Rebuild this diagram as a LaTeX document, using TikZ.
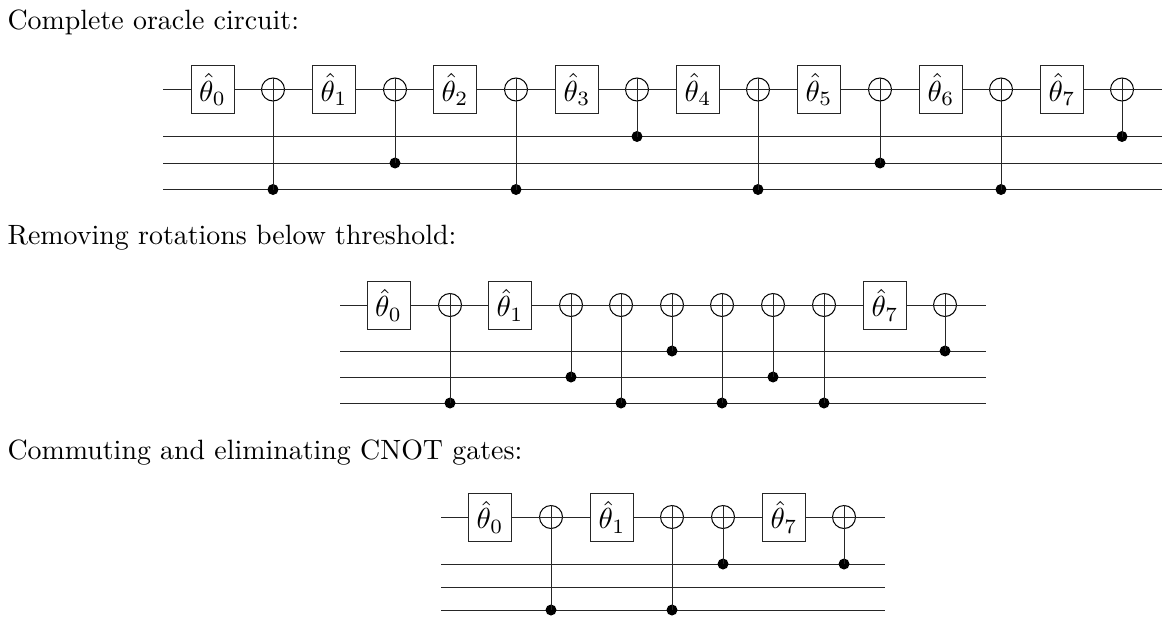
\documentclass[tikz,border=0pt]{standalone}
\tikzset{
  wire/.style={line width=1pt,black!85},
  gatebox/.style={draw,line width=1pt,black!85,text=black,fill=white,minimum width=43pt,minimum height=48pt,inner sep=0pt},
  oplus/.style={circle,draw,line width=1pt,minimum size=23pt,inner sep=0pt},
  ctrl/.style={circle,fill=black,minimum size=11pt,inner sep=0pt},
  title/.style={anchor=base west,inner sep=0pt,scale=2.79}
}
% #1 prefix, #2 x, #3 top y, #4 control y
\newcommand{\cnotgate}[4]{%
  \node[oplus] (#1t) at (#2,#3) {};
  \node[ctrl] (#1c) at (#2,#4) {};
  \draw[wire] (#1t.north) -- (#1c.center);
  \draw[wire] (#1t.west) -- (#1t.east);
}
\newcommand{\rotgate}[4]{%
  \node[gatebox] (#1) at (#2,#3) {\scalebox{2.9}{$\hat\theta_{#4}$}};
}
\begin{document}
\begin{tikzpicture}[x=1pt,y=-1pt]
\useasboundingbox (0,0) rectangle (1169,626);
\node[title] (t1) at (7,30) {Complete oracle circuit:};
\node[title] (t2) at (7,244.5) {Removing rotations below threshold:};
\node[title] (t3) at (7,459) {Commuting and eliminating CNOT gates:};
% circuit 1
\foreach \n/\y in {a/89.5,b/136.5,c/163,d/189.5}{
  \coordinate (A\n l) at (163,\y); \coordinate (A\n r) at (1162,\y);
  \draw[wire] (A\n l) -- (A\n r);
}
\foreach \i/\x in {0/212.5,1/334,2/455,3/577,4/698,5/819,6/941,7/1062}{
  \rotgate{Ar\i}{\x}{89.5}{\i}
}
\foreach \i/\x/\y in {0/273/189.5,1/395/163,2/516/189.5,3/637/136.5,4/758/189.5,5/880/163,6/1001/189.5,7/1122/136.5}{
  \cnotgate{Ag\i}{\x}{89.5}{\y}
}
% circuit 2
\foreach \n/\y in {a/305,b/351,c/377,d/403}{
  \coordinate (B\n l) at (340,\y); \coordinate (B\n r) at (986,\y);
  \draw[wire] (B\n l) -- (B\n r);
}
\foreach \i/\x in {0/388.5,1/510,7/885}{
  \rotgate{Br\i}{\x}{305}{\i}
}
\foreach \i/\x/\y in {0/450/403,1/571/377,2/621/403,3/672/351,4/722/403,5/773/377,6/824/403,7/945/351}{
  \cnotgate{Bg\i}{\x}{305}{\y}
}
% circuit 3
\foreach \n/\y in {a/517,b/564,c/587,d/610}{
  \coordinate (C\n l) at (441,\y); \coordinate (C\n r) at (885,\y);
  \draw[wire] (C\n l) -- (C\n r);
}
\foreach \i/\x in {0/490,1/612,7/784}{
  \rotgate{Cr\i}{\x}{517}{\i}
}
\foreach \i/\x/\y in {0/551/610,1/672/610,2/723/564,3/844/564}{
  \cnotgate{Cg\i}{\x}{517}{\y}
}
\end{tikzpicture}
\end{document}
